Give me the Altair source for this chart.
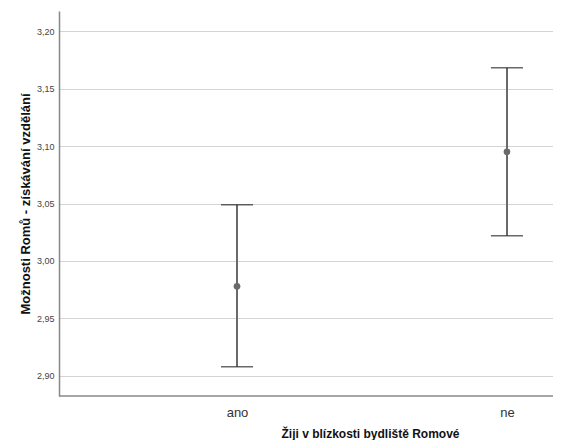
import altair as alt
import pandas as pd

categories = ["ano", "ne"]
means = [2.978, 3.095]
lower = [2.908, 3.022]
upper = [3.049, 3.168]

df = pd.DataFrame({"cat": categories, "idx": list(range(len(categories))),
                   "mean": means, "lo": lower, "hi": upper})

W, H = 494, 385
FONT = "Liberation Sans"

label_expr = "[" + ",".join("'%s'" % c for c in categories) + "][datum.value]"
xscale = alt.Scale(domain=[-0.6593, 1.1704], nice=False, zero=False)
yscale = alt.Scale(domain=[2.8826, 3.2174], nice=False, zero=False)

x_axis = alt.Axis(title="Žiji v blízkosti bydliště Romové", values=list(range(len(categories))),
                  labelExpr=label_expr, domain=False, ticks=False, grid=False,
                  labelAngle=0, labelFont=FONT, labelFontSize=13, labelColor="#333",
                  labelPadding=10, titleFont=FONT, titleFontSize=12, titleFontWeight="bold",
                  titleColor="#111", titlePadding=9, titleX=311, titleAlign="center",
                  titleAnchor="start")
y_axis = alt.Axis(title="Možnosti Romů - získávání vzdělání", values=[2.90, 2.95, 3.00, 3.05, 3.10, 3.15, 3.20],
                  labelExpr="replace(format(datum.value, '.2f'), '.', ',')",
                  ticks=False, labelPadding=5, labelFont=FONT, labelFontSize=9, labelColor="#444",
                  domainColor="#888", domainWidth=1.5, gridColor="#d4d4d4", gridWidth=1,
                  titleFont=FONT, titleFontSize=13, titleFontWeight="bold", titleColor="#111",
                  titlePadding=4)

base = alt.Chart(df)

rules = base.mark_rule(color="#6a6a6a", strokeWidth=2).encode(
    x=alt.X("idx:Q", scale=xscale, axis=x_axis),
    y=alt.Y("lo:Q", scale=yscale, axis=y_axis),
    y2="hi:Q",
)
cap_lo = base.mark_tick(color="#2a2a2a", size=32, thickness=1.5, orient="horizontal").encode(
    x=alt.X("idx:Q", scale=xscale), y=alt.Y("lo:Q", scale=yscale))
cap_hi = base.mark_tick(color="#2a2a2a", size=32, thickness=1.5, orient="horizontal").encode(
    x=alt.X("idx:Q", scale=xscale), y=alt.Y("hi:Q", scale=yscale))
pts = base.mark_circle(color="#6a6a6a", size=45, opacity=1).encode(
    x=alt.X("idx:Q", scale=xscale), y=alt.Y("mean:Q", scale=yscale))

xline = alt.Chart(pd.DataFrame({"a": [0]})).mark_rule(color="#888", strokeWidth=1.5).encode(
    x=alt.value(0), x2=alt.value(W), y=alt.value(H))

chart = alt.layer(rules, cap_lo, cap_hi, pts, xline).properties(
    width=W, height=H,
    background="white",
    autosize=alt.AutoSizeParams(type="none"),
    padding={"left": 51, "top": 3, "right": 0, "bottom": 44},
).configure_view(stroke=None)

chart.save("out.html", embed_options={"renderer": "svg", "actions": False})
